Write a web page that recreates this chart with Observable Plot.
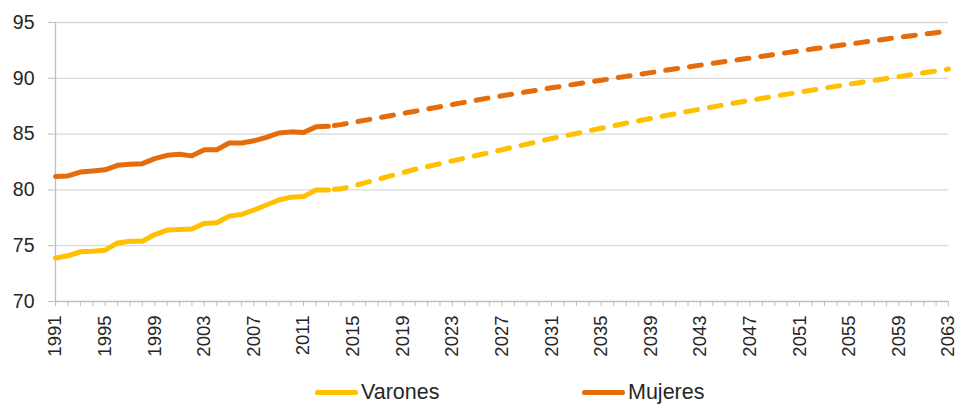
<!DOCTYPE html>
<html><head><meta charset="utf-8">
<script src="https://cdn.jsdelivr.net/npm/d3@7"></script>
<script src="https://cdn.jsdelivr.net/npm/@observablehq/plot@0.6"></script>
<style>
body{margin:0;background:#fff;font-family:"Liberation Sans",Arial,sans-serif;}
#chart svg{display:block;}
#legend{position:relative;height:42px;font-size:21.5px;color:#262626;}
.item{position:absolute;top:15px;display:flex;align-items:center;}
.sw{width:43px;height:5px;border-radius:3px;margin-right:3px;}
</style></head><body>
<div id="chart"></div>
<div id="legend"></div>
<script>
const histYears = [1991,1992,1993,1994,1995,1996,1997,1998,1999,2000,2001,2002,2003,2004,2005,2006,2007,2008,2009,2010,2011,2012,2013];
const histVarones = [73.9,74.1,74.45,74.5,74.6,75.25,75.4,75.4,76.0,76.4,76.45,76.5,77.0,77.05,77.65,77.8,78.2,78.65,79.1,79.35,79.4,80.0,80.0];
const histMujeres = [81.2,81.25,81.6,81.7,81.8,82.2,82.3,82.35,82.8,83.1,83.2,83.05,83.6,83.6,84.2,84.2,84.4,84.7,85.1,85.2,85.15,85.65,85.7];

const projYears = [2013,2014,2015,2016,2017,2018,2019,2020,2021,2022,2023,2024,2025,2026,2027,2028,2029,2030,2031,2032,2033,2034,2035,2036,2037,2038,2039,2040,2041,2042,2043,2044,2045,2046,2047,2048,2049,2050,2051,2052,2053,2054,2055,2056,2057,2058,2059,2060,2061,2062,2063];
const projVarones = [80.0,80.1,80.35,80.65,80.95,81.25,81.55,81.85,82.1,82.35,82.6,82.85,83.1,83.35,83.6,83.85,84.1,84.35,84.6,84.83,85.06,85.29,85.52,85.75,85.98,86.2,86.41,86.62,86.83,87.04,87.24,87.44,87.64,87.83,88.02,88.21,88.4,88.58,88.76,88.94,89.12,89.3,89.47,89.64,89.81,89.98,90.15,90.32,90.49,90.66,90.83];
const projMujeres = [85.7,85.85,86.05,86.25,86.45,86.65,86.85,87.05,87.25,87.45,87.65,87.85,88.05,88.25,88.43,88.61,88.79,88.97,89.15,89.32,89.49,89.66,89.83,90.0,90.17,90.34,90.51,90.68,90.85,91.02,91.18,91.34,91.5,91.66,91.82,91.98,92.14,92.3,92.46,92.62,92.77,92.92,93.07,93.22,93.37,93.52,93.67,93.81,93.95,94.09,94.23];

const allYears = [1991,1992,1993,1994,1995,1996,1997,1998,1999,2000,2001,2002,2003,2004,2005,2006,2007,2008,2009,2010,2011,2012,2013,2014,2015,2016,2017,2018,2019,2020,2021,2022,2023,2024,2025,2026,2027,2028,2029,2030,2031,2032,2033,2034,2035,2036,2037,2038,2039,2040,2041,2042,2043,2044,2045,2046,2047,2048,2049,2050,2051,2052,2053,2054,2055,2056,2057,2058,2059,2060,2061,2062,2063];
const labelYears = [1991,1995,1999,2003,2007,2011,2015,2019,2023,2027,2031,2035,2039,2043,2047,2051,2055,2059,2063];
const yTicks = [70,75,80,85,90,95];
const seriesNames = ["Varones","Mujeres"];
const seriesColors = ["#FFC000","#E46C0A"];

const hist = [];
histYears.forEach((y,i)=>{hist.push({year:y,v:histVarones[i],s:"Varones"});hist.push({year:y,v:histMujeres[i],s:"Mujeres"});});
const proj = [];
projYears.forEach((y,i)=>{proj.push({year:y,v:projVarones[i],s:"Varones"});proj.push({year:y,v:projMujeres[i],s:"Mujeres"});});

const chart = Plot.plot({
  width: 959, height: 365,
  marginLeft: 55, marginRight: 11, marginTop: 22, marginBottom: 64,
  style: {fontFamily: '"Liberation Sans",Arial,sans-serif', background: "#fff"},
  x: {domain: [1991, 2063], type: "linear"},
  y: {domain: [70, 95]},
  color: {domain: seriesNames, range: seriesColors},
  marks: [
    Plot.gridY(yTicks.slice(1), {stroke: "#d9d9d9", strokeOpacity: 1, strokeWidth: 1.3}),
    Plot.ruleX([1991], {stroke: "#bfbfbf", strokeWidth: 1.3}),
    Plot.ruleY([70], {stroke: "#bfbfbf", strokeWidth: 1.3}),
    Plot.axisY({ticks: yTicks, tickSize: 7, tickPadding: 14, fontSize: 19.5, stroke: "#bfbfbf", fill: "#262626", label: null, tickFormat: d => d}),
    Plot.axisX({ticks: allYears, tickSize: 5, tickPadding: 9, tickRotate: -90, fontSize: 18.5, stroke: "#bfbfbf", fill: "#262626", label: null,
      tickFormat: d => labelYears.includes(d) ? String(d) : ""}),
    Plot.line(hist, {x: "year", y: "v", z: "s", stroke: "s", strokeWidth: 5, strokeLinejoin: "round", strokeLinecap: "round"}),
    Plot.line(proj, {x: "year", y: "v", z: "s", stroke: "s", strokeWidth: 5, strokeDasharray: "12,12", strokeDashoffset: -6, strokeLinecap: "round", strokeLinejoin: "round"})
  ]
});
document.getElementById("chart").appendChild(chart);

const lg = document.getElementById("legend");
const lefts = [315, 582];
seriesNames.forEach((n,i)=>{
  const d = document.createElement("div"); d.className = "item"; d.style.left = lefts[i] + "px";
  const sw = document.createElement("div"); sw.className = "sw"; sw.style.background = seriesColors[i];
  const t = document.createElement("span"); t.textContent = n;
  d.appendChild(sw); d.appendChild(t); lg.appendChild(d);
});
</script>
</body></html>
